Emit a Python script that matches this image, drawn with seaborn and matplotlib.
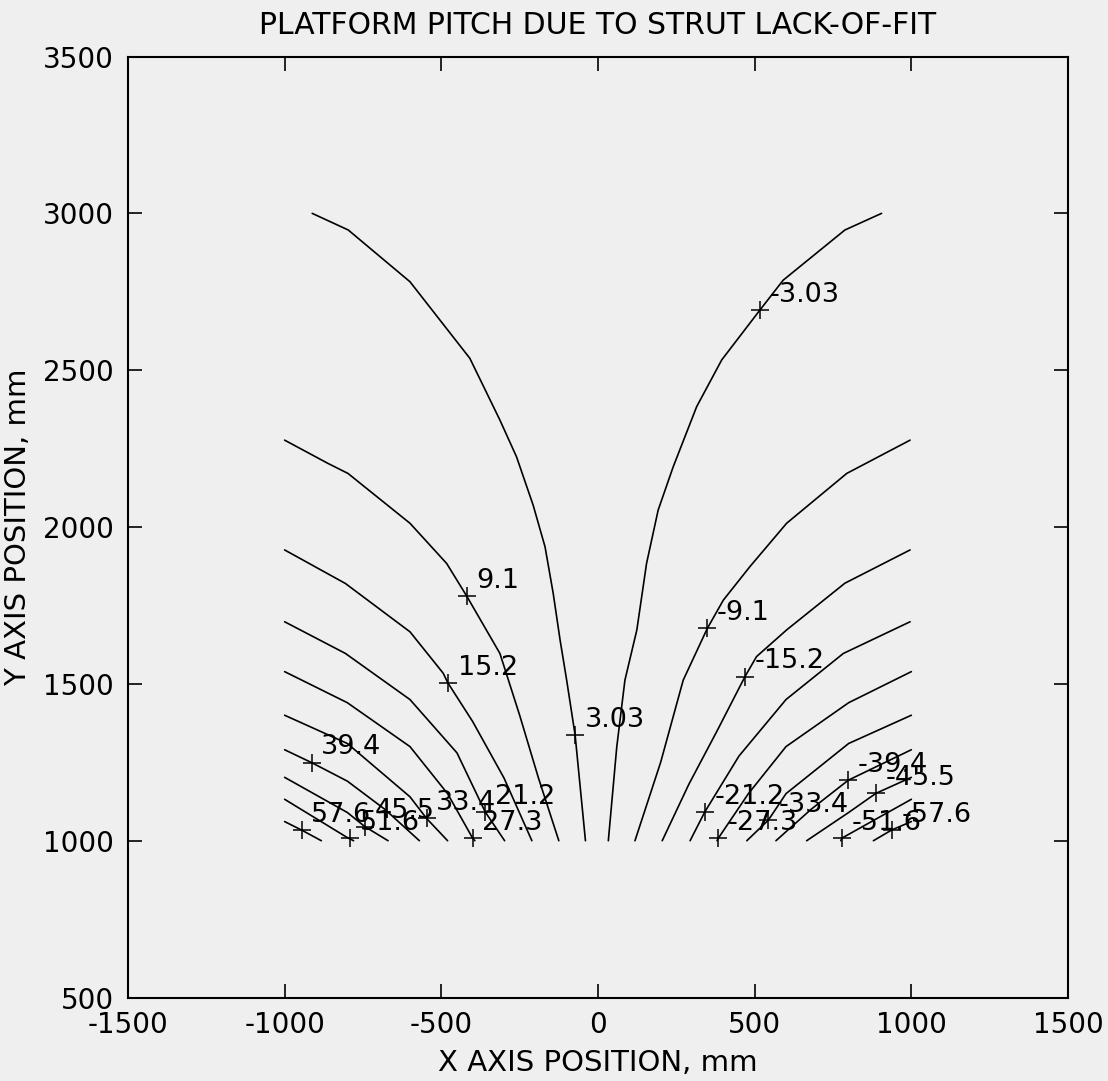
import matplotlib
matplotlib.use("Agg")
import matplotlib.pyplot as plt
import seaborn as sns
import pandas as pd

# Contour levels (positive on the left half, negative on the right half)
LEVELS_LEFT = [3.03, 9.1, 15.2, 21.2, 27.3, 33.4, 39.4, 45.5, 51.6, 57.6]
LEVELS_RIGHT = [-3.03, -9.1, -15.2, -21.2, -27.3, -33.4, -39.4, -45.5, -51.6, -57.6]

# Contour polylines, left half (mm)
LEFT_X = [
    [-912, -797, -600, -409, -313, -260, -207, -169, -143, -121, -100, -73, -40],
    [-1000, -862, -798, -600, -483, -419, -313, -250, -190, -125],
    [-1000, -806, -600, -494, -479, -400, -300, -211],
    [-1000, -806, -600, -450, -360, -298],
    [-1000, -800, -600, -480, -400, -393],
    [-1000, -800, -600, -547, -480],
    [-1000, -914, -800, -680, -570],
    [-1000, -800, -744, -670],
    [-1000, -800, -780],
    [-1000, -946, -883],
]
LEFT_Y = [
    [3000, 2947, 2782, 2538, 2341, 2224, 2070, 1937, 1789, 1640, 1512, 1337, 1000],
    [2277, 2203, 2171, 2012, 1884, 1780, 1597, 1400, 1200, 1000],
    [1927, 1820, 1666, 1534, 1503, 1380, 1200, 1000],
    [1698, 1597, 1450, 1280, 1092, 1000],
    [1539, 1440, 1300, 1150, 1008, 1000],
    [1400, 1310, 1140, 1071, 1000],
    [1290, 1249, 1190, 1100, 1000],
    [1202, 1090, 1045, 1000],
    [1132, 1010, 1000],
    [1061, 1034, 1000],
]

# Contour polylines, right half (mm)
RIGHT_X = [
    [905, 788, 591, 517, 395, 315, 240, 192, 155, 124, 86, 60, 33],
    [996, 794, 602, 485, 400, 349, 272, 200, 118],
    [996, 788, 602, 506, 469, 380, 290, 205],
    [996, 783, 600, 450, 341, 294],
    [1000, 800, 600, 480, 384, 380],
    [1000, 800, 600, 544, 475],
    [1000, 799, 680, 568],
    [1000, 887, 800, 666],
    [1000, 778, 775],
    [1000, 937, 879],
]
RIGHT_Y = [
    [3000, 2947, 2787, 2692, 2533, 2384, 2192, 2054, 1884, 1672, 1512, 1300, 1000],
    [2277, 2171, 2012, 1874, 1767, 1677, 1512, 1250, 1000],
    [1927, 1821, 1672, 1587, 1523, 1350, 1180, 1000],
    [1698, 1597, 1450, 1270, 1092, 1000],
    [1539, 1440, 1300, 1150, 1008, 1000],
    [1400, 1310, 1150, 1066, 1000],
    [1290, 1193, 1100, 1000],
    [1202, 1151, 1090, 1000],
    [1132, 1008, 1000],
    [1061, 1034, 1000],
]

# Contour label anchor points (+ markers) and their texts
LABEL_X = [-73, -419, -479, -360, -400, -547, -914, -744, -791, -946,
           517, 349, 469, 341, 384, 544, 799, 887, 778, 937]
LABEL_Y = [1337, 1780, 1503, 1092, 1008, 1071, 1249, 1045, 1008, 1034,
           2692, 1677, 1523, 1092, 1008, 1066, 1193, 1151, 1008, 1034]
LABEL_TEXT = ["3.03", "9.1", "15.2", "21.2", "27.3", "33.4", "39.4", "45.5", "51.6", "57.6",
              "-3.03", "-9.1", "-15.2", "-21.2", "-27.3", "-33.4", "-39.4", "-45.5", "-51.6", "-57.6"]

X_TICKS = [-1500, -1000, -500, 0, 500, 1000, 1500]
Y_TICKS = [500, 1000, 1500, 2000, 2500, 3000, 3500]

sns.set_theme(style="ticks")
plt.rcParams["font.family"] = ["DejaVu Sans"]
plt.rcParams["axes.unicode_minus"] = False

BG = "#efefef"
fig = plt.figure(figsize=(11.08, 10.81), dpi=100, facecolor=BG)
ax = fig.add_axes([0.1155, 0.0772, 0.8484, 0.8705], facecolor=BG)

rows = []
for side, xs_all, ys_all, levels in (("L", LEFT_X, LEFT_Y, LEVELS_LEFT),
                                     ("R", RIGHT_X, RIGHT_Y, LEVELS_RIGHT)):
    for xs, ys, lev in zip(xs_all, ys_all, levels):
        for i, (x, y) in enumerate(zip(xs, ys)):
            rows.append({"line": f"{side}{lev}", "order": i, "x": x, "y": y})
df = pd.DataFrame(rows)

sns.lineplot(data=df, x="x", y="y", units="line", estimator=None, sort=False,
             color="black", linewidth=1.2, legend=False, ax=ax)

marks = pd.DataFrame({"x": LABEL_X, "y": LABEL_Y})
ax.plot(marks["x"], marks["y"], linestyle="none", marker="+", color="black",
        markersize=13, markeredgewidth=1.1)
for x, y, t in zip(LABEL_X, LABEL_Y, LABEL_TEXT):
    ax.annotate(t, (x, y), xytext=(7, 11), textcoords="offset points",
                ha="left", va="center", fontsize=19.5, color="black")

ax.set_xlim(-1500, 1500)
ax.set_ylim(500, 3500)
ax.set_xticks(X_TICKS)
ax.set_yticks(Y_TICKS)
ax.tick_params(direction="in", top=True, right=True, length=10, width=1.2,
               labelsize=20, pad=10, colors="black")
for s in ax.spines.values():
    s.set_linewidth(1.5)
    s.set_color("black")

ax.set_xlabel("X AXIS POSITION, mm", fontsize=21, labelpad=7, color="black")
ax.set_ylabel("Y AXIS POSITION, mm", fontsize=21, labelpad=8, color="black")
ax.set_title("PLATFORM PITCH DUE TO STRUT LACK-OF-FIT", fontsize=21.5, pad=16, color="black")

fig.savefig("out.png", dpi=100, facecolor=BG)
